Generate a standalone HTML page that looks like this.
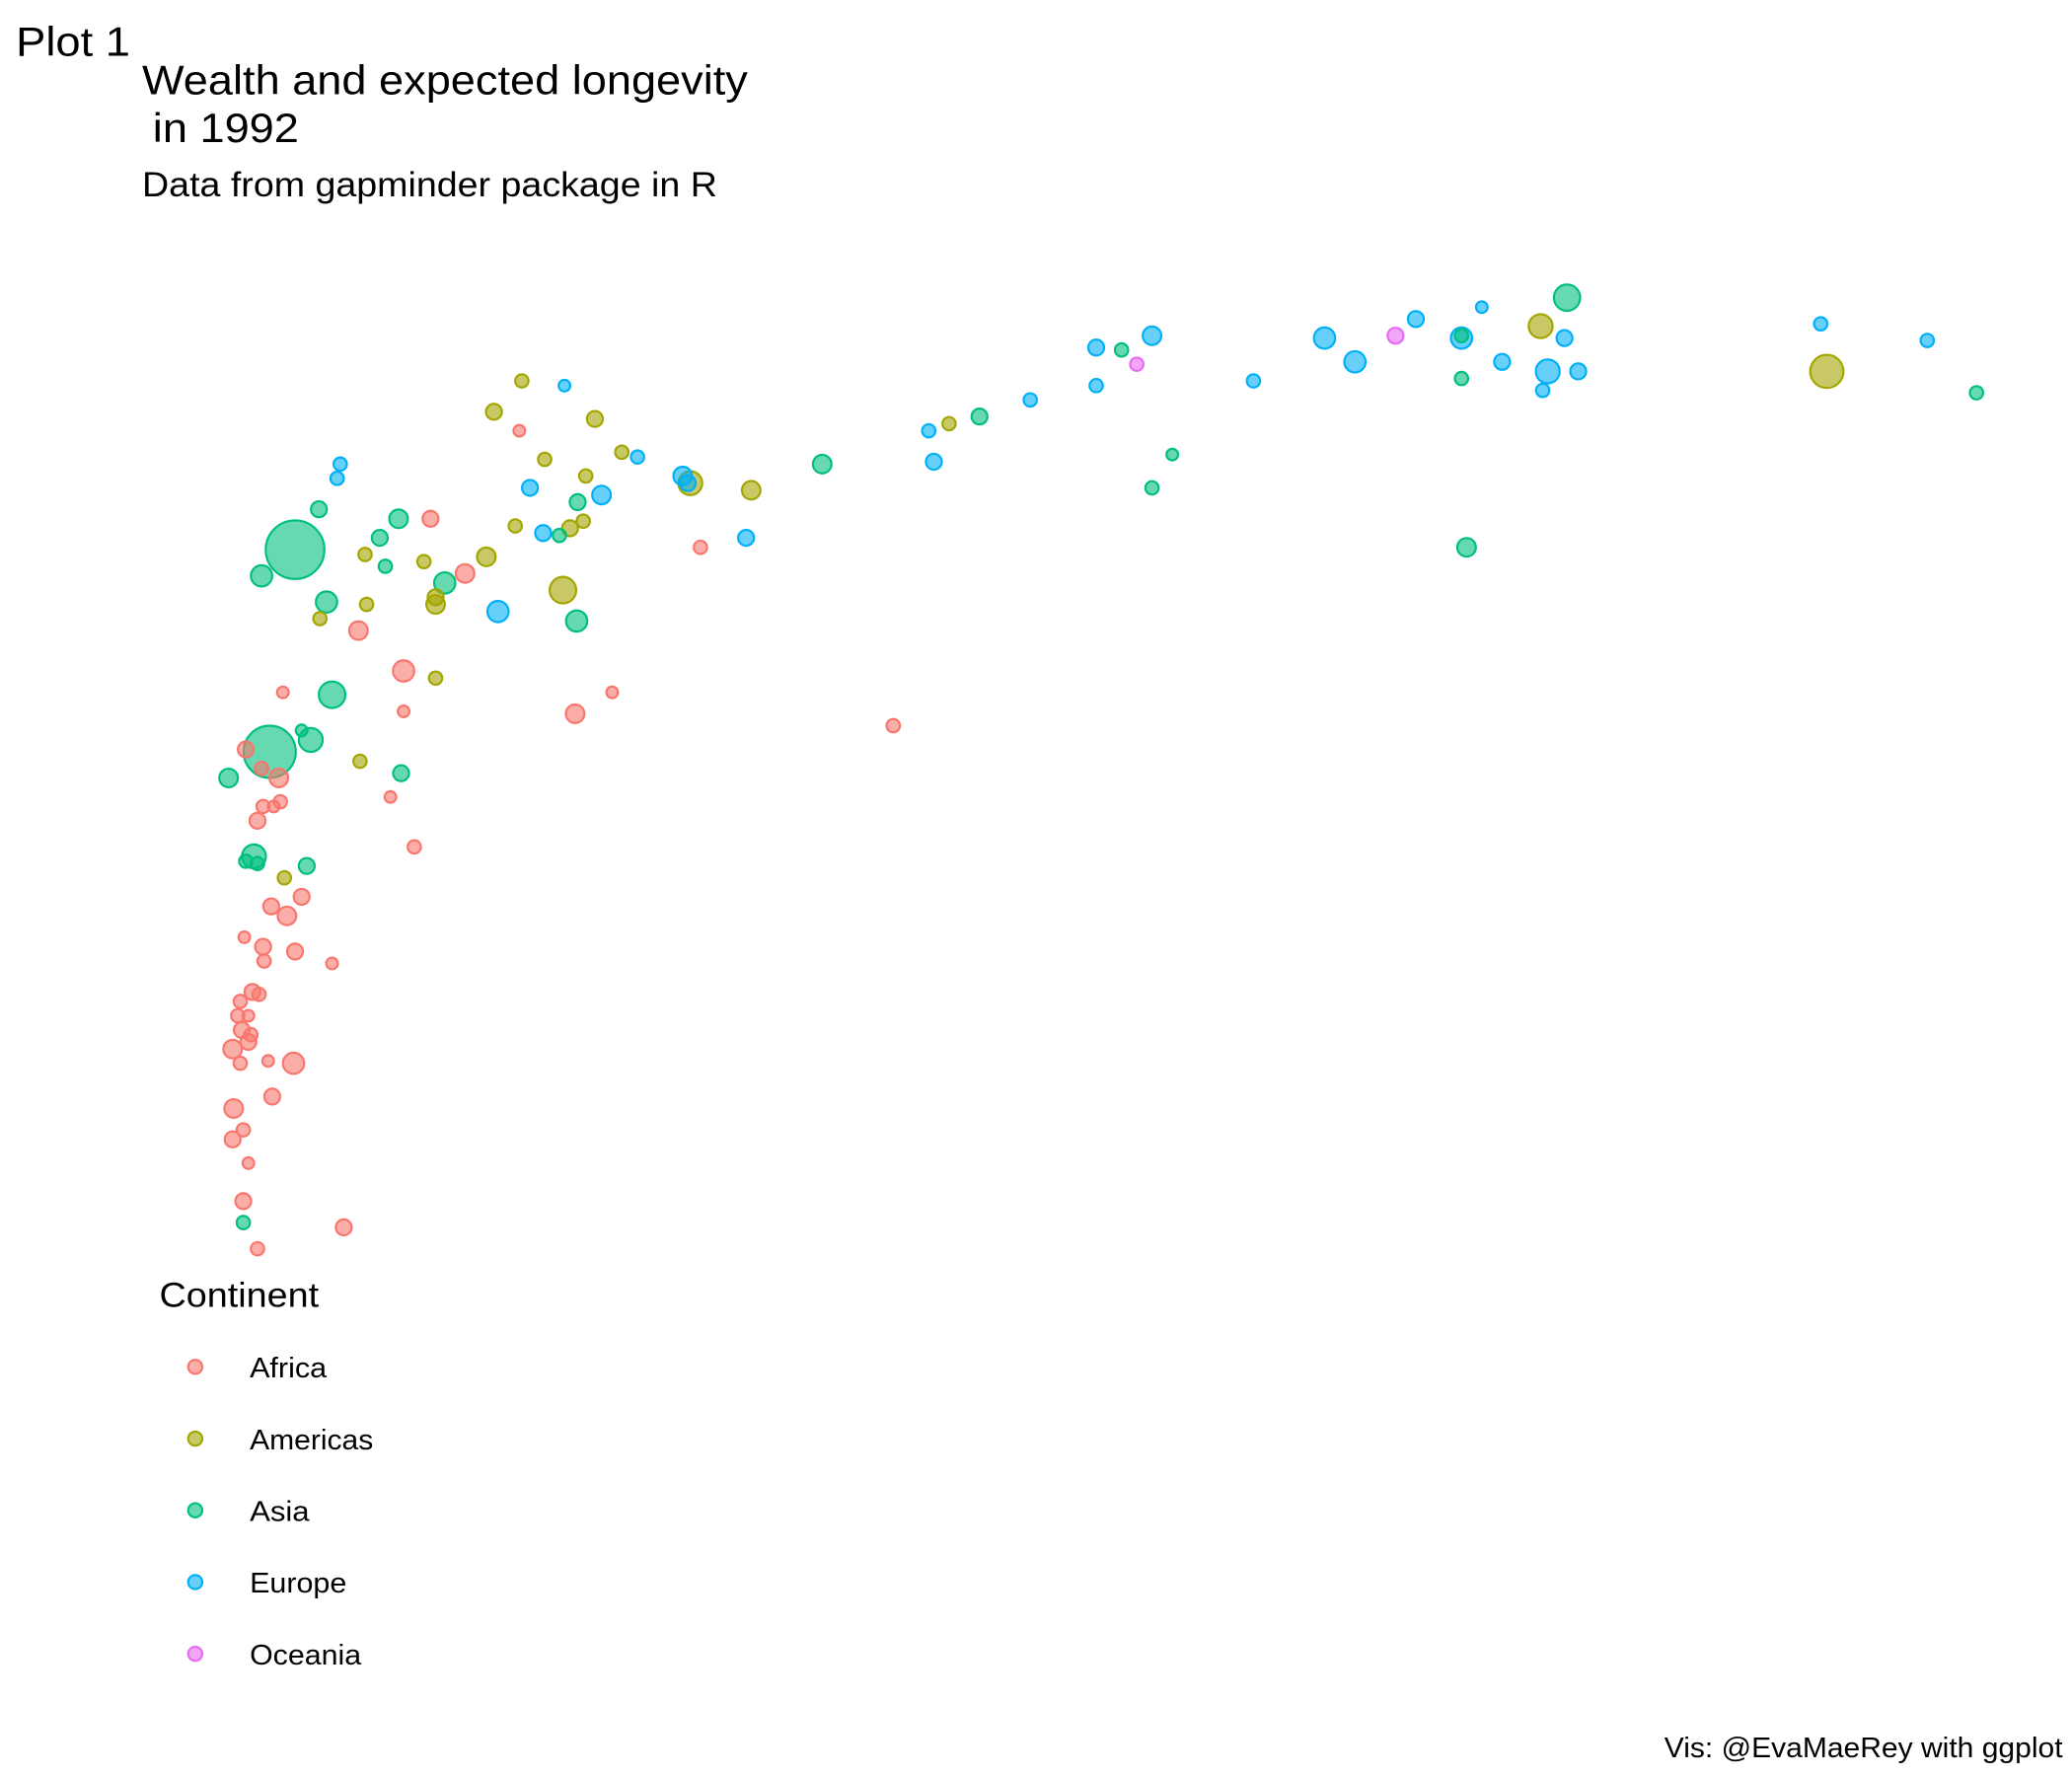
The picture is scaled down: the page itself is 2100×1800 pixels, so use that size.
<!DOCTYPE html>
<html><head><meta charset="utf-8"><style>
html,body{margin:0;padding:0;background:#fff;}
svg{display:block;font-family:"Liberation Sans",Arial,sans-serif;}
</style></head><body>
<svg id="chart" width="2100" height="1800" viewBox="0 0 1560 1337" preserveAspectRatio="none" xmlns="http://www.w3.org/2000/svg">
<rect width="1560" height="1337" fill="#fff"/>
<text x="12" y="42" font-size="31" fill="#000" textLength="86" lengthAdjust="spacingAndGlyphs">Plot 1</text>
<text x="107" y="71" font-size="31" fill="#000" textLength="456" lengthAdjust="spacingAndGlyphs">Wealth and expected longevity</text>
<text x="115" y="107" font-size="31" fill="#000" textLength="110" lengthAdjust="spacingAndGlyphs">in 1992</text>
<text x="107" y="148" font-size="26" fill="#000" textLength="433" lengthAdjust="spacingAndGlyphs">Data from gapminder package in R</text>
<g id="points"></g>
<g id="legend">
<text x="120" y="984" font-size="26" fill="#000" textLength="120" lengthAdjust="spacingAndGlyphs">Continent</text>
</g>
<text x="1553" y="1323" font-size="21" text-anchor="end" fill="#000" textLength="300" lengthAdjust="spacingAndGlyphs">Vis: @EvaMaeRey with ggplot</text>
</svg>
<script>
const continents = ["Africa","Americas","Asia","Europe","Oceania"];
const labelWidths = [58,93,45,73,84];
const colors = ["#F8766D","#A3A500","#00BF7D","#00B0F6","#E76BF3"];
// gdp per capita (thousands), life expectancy (years), population (millions), continent index
const gdp = [26.88,31.88,33.98,32.0,34.95,26.36,26.83,25.2,23.9,23.5,24.8,24.8,25.6,26.5,27.1,26.4,24.8,22.1,22.7,20.7,18.7,18.1,18.4,17.6,17.6,16.3,15.3,14.7,14.3,14.4,19.1,18.7,24.9,12.2,10.8,10.7,9.8,13.6,9.6,9.45,9.55,8.56,8.25,7.72,7.12,6.28,5.73,6.23,6.73,7.54,6.44,7.85,7.38,7.49,7.23,7.02,6.70,6.15,4.48,5.58,5.16,4.76,4.35,4.58,4.58,5.81,7.09,7.36,8.06,7.33,4.58,3.95,3.95,3.06,3.22,3.19,3.85,3.48,3.59,2.28,2.70,2.64,1.81,1.15,2.43,2.30,2.54,1.57,1.31,1.94,2.12,0.84,0.50,1.15,1.49,3.09,3.90,3.69,1.18,1.52,1.39,1.07,4.16,1.0,0.84,1.07,2.04,1.6,1.94,1.34,1.65,0.81,1.18,1.81,1.20,2.54,0.97,1.10,0.73,0.68,0.89,0.76,0.94,0.89,0.58,1.78,0.73,1.28,0.60,1.36,0.79,0.58,0.89,0.79,0.79,2.77,1.07];
const lifeExp = [79.3,78.2,77.5,76.2,75.3,78.1,77.6,78.9,78.4,77.7,77.6,77.7,76.6,76.2,76.2,75.4,75.9,77.6,76.6,75.8,77.7,77.1,76.5,77.2,75.6,75.0,74.3,74.0,73.7,72.4,72.7,71.3,68.8,72.3,71.2,69.2,68.8,61.3,71.5,71.8,71.5,72.6,72.8,74.2,75.6,75.8,74.5,73.7,72.5,71.8,71.3,71.0,70.7,69.9,69.6,69.3,69.4,69.7,70.0,68.4,67.7,67.3,68.2,66.7,66.4,66.1,67.0,65.7,62.7,61.8,63.3,63.6,61.9,65.3,66.4,68.5,70.0,69.2,68.0,70.4,72.3,71.7,68.7,67.6,66.5,65.8,62.6,62.7,60.2,61.1,60.7,60.3,59.1,59.5,59.1,59.8,59.3,58.3,57.9,58.1,57.9,57.3,56.2,55.8,55.6,55.5,55.4,54.9,54.1,53.7,53.3,52.4,52.0,51.8,51.4,51.3,50.1,50.0,49.7,49.1,49.1,48.5,48.3,48.0,47.7,47.1,47.1,47.2,45.2,45.7,44.3,43.9,42.9,41.3,40.4,40.2,39.3];
const pop = [124,3.6,3.6,256,3.6,89,14,0.5,14,14,57,3.6,14,89,14,3.6,3.6,57,57,3.6,32,3.6,3.6,14,3.6,3.6,14,3.6,3.6,14,0.5,3.6,32,32,32,14,3.6,3.6,89,32,14,3.6,3.6,14,0.5,3.6,14,0.5,3.6,3.6,14,32,14,3.6,14,3.6,14,3.6,14,32,32,57,3.6,14,32,57,128,57,0.5,32,3.6,57,0.5,32,3.6,3.6,32,14,3.6,14,3.6,3.6,1164,57,57,3.6,128,0.5,872,0.5,89,14,32,3.6,32,3.6,14,0.5,3.6,3.6,0.5,14,3.6,89,3.6,3.6,14,3.6,14,14,32,0.5,14,14,3.6,0.5,14,3.6,3.6,3.6,0.5,14,3.6,14,32,57,3.6,0.5,32,14,3.6,14,0.5,14,3.6,14,3.6];
const cont = [2,3,3,1,2,1,3,3,3,4,3,2,3,3,3,3,2,3,3,3,3,2,4,3,3,3,2,1,3,3,2,2,2,2,1,3,0,0,1,3,3,3,1,1,3,1,1,0,1,1,3,3,2,1,1,2,3,1,0,1,0,2,1,1,1,3,1,2,0,0,1,0,0,0,1,1,2,2,2,2,3,3,2,2,2,1,2,0,2,2,2,0,2,0,0,1,2,0,0,0,0,0,0,2,2,2,2,1,0,0,0,0,0,0,0,0,0,0,0,0,0,0,0,0,0,0,0,0,0,0,0,0,0,0,2,0,0,0];
const xScale = g => 153 + 38.2 * g;
const yScale = l => 414 + 17.9 * (68.69 - l);
const rScale = p => 4 + 0.53 * Math.sqrt(p);
const NS = "http://www.w3.org/2000/svg";
const layer = document.getElementById("points");
const order = gdp.map((_, i) => i).sort((a, b) => pop[b] - pop[a]);
for (const i of order) {
  const c = document.createElementNS(NS, "circle");
  c.setAttribute("cx", xScale(gdp[i]));
  c.setAttribute("cy", yScale(lifeExp[i]));
  c.setAttribute("r", rScale(pop[i]));
  c.setAttribute("fill", colors[cont[i]]);
  c.setAttribute("fill-opacity", "0.6");
  c.setAttribute("stroke", colors[cont[i]]);
  c.setAttribute("stroke-width", "1.6");
  
  
  layer.appendChild(c);
}
const leg = document.getElementById("legend");
continents.forEach((name, k) => {
  const y = 1029 + k * 54;
  const c = document.createElementNS(NS, "circle");
  c.setAttribute("cx", 147); c.setAttribute("cy", y); c.setAttribute("r", 5.3);
  c.setAttribute("fill", colors[k]); c.setAttribute("fill-opacity", "0.6");
  c.setAttribute("stroke", colors[k]); c.setAttribute("stroke-width", "1.6");
  
  
  leg.appendChild(c);
  const t = document.createElementNS(NS, "text");
  t.setAttribute("x", 188); t.setAttribute("y", y + 8);
  t.setAttribute("font-size", "21"); t.setAttribute("fill", "#000");
  t.setAttribute("textLength", labelWidths[k]); t.setAttribute("lengthAdjust", "spacingAndGlyphs");
  t.textContent = name;
  
  
  leg.appendChild(t);
});
</script>
</body></html>
